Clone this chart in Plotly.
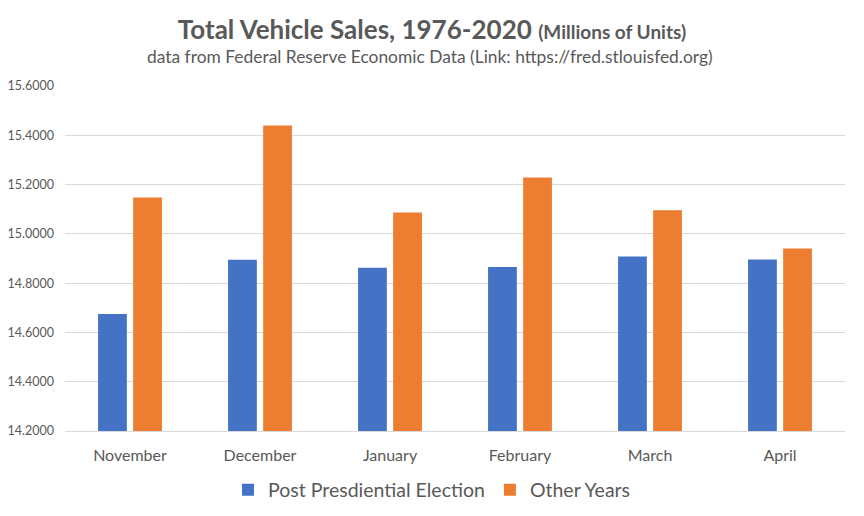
import plotly.graph_objects as go

months = ["November", "December", "January", "February", "March", "April"]
post_election = [14.675, 14.895, 14.862, 14.866, 14.908, 14.896]
other_years = [15.148, 15.440, 15.087, 15.229, 15.096, 14.941]
y_ticks = [14.2, 14.4, 14.6, 14.8, 15.0, 15.2, 15.4, 15.6]

FONT = "Lato, 'Open Sans', sans-serif"
TXT = "#595959"

fig = go.Figure()
fig.add_trace(go.Bar(x=months, y=post_election, name="Post Presdiential Election",
                     marker=dict(color="#4472C4", line=dict(width=0))))
fig.add_trace(go.Bar(x=months, y=other_years, name="Other Years",
                     marker=dict(color="#ED7D31", line=dict(width=0))))

fig.update_layout(
    width=864, height=516,
    margin=dict(l=65, r=19, t=86, b=85, autoexpand=False),
    paper_bgcolor="white", plot_bgcolor="white",
    font=dict(family=FONT, color=TXT),
    barmode="group", bargap=0.46, bargroupgap=0.18,
    title=dict(
        text="<b>Total Vehicle Sales, 1976-2020 <span style='font-size:19px'>(Millions of Units)</span></b>",
        x=0.5, xref="container", xanchor="center",
        y=1 - 30 / 516, yref="container", yanchor="middle",
        font=dict(size=26, color=TXT, family=FONT),
    ),
    legend=dict(orientation="h", x=0.5, xref="container", xanchor="center",
                y=1 - 490 / 516, yref="container", yanchor="middle",
                font=dict(size=19.5, color=TXT), itemwidth=30, traceorder="normal"),
    annotations=[dict(
        text="data from Federal Reserve Economic Data (Link: https://fred.stlouisfed.org)",
        xref="paper", yref="paper", x=0.468, y=(431 - 57) / 345,
        xanchor="center", yanchor="middle", showarrow=False,
        font=dict(size=17.4, color=TXT, family=FONT),
    )],
)
fig.update_yaxes(range=[14.2, 15.6], tickvals=y_ticks, tickformat=".4f",
                 showgrid=True, gridcolor="#D9D9D9", gridwidth=1,
                 zeroline=False, showline=False, ticks="", ticklen=0,
                 tickfont=dict(size=12.5, color=TXT), ticklabelstandoff=10)
fig.update_xaxes(showgrid=False, showline=True, linecolor="#D9D9D9", linewidth=1,
                 ticks="", tickfont=dict(size=16, color=TXT), ticklabelstandoff=10)

fig.write_html("out.html")
